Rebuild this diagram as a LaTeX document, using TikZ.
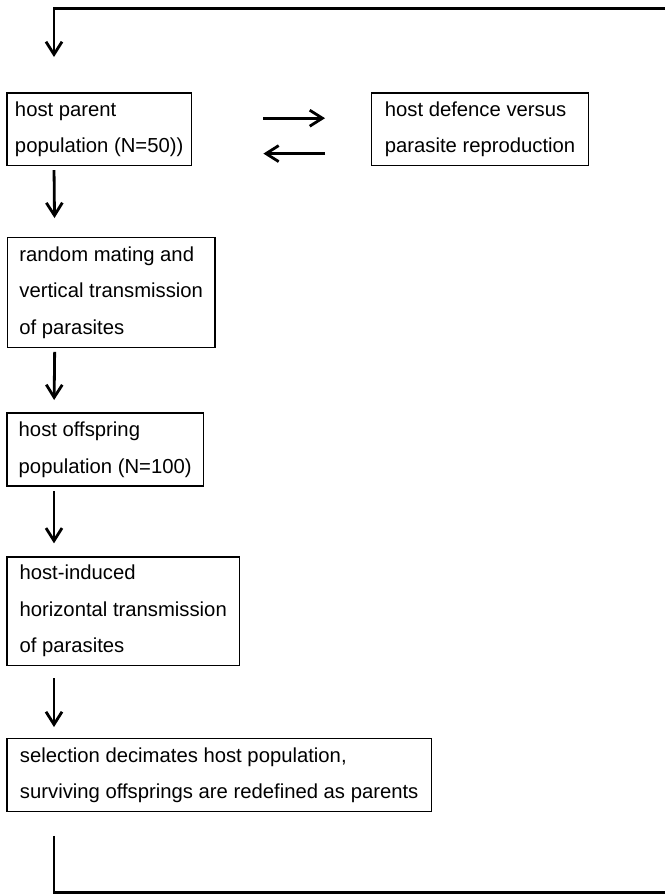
\documentclass[tikz,border=0pt]{standalone}
\usepackage{fontspec}
\setmainfont{Liberation Sans}
\usetikzlibrary{arrows.meta}

\begin{document}
\begin{tikzpicture}[x=0.75pt,y=-0.75pt]
\tikzstyle{stage}=[draw,line width=1.3pt,anchor=north west,align=left,inner sep=0pt,font=\fontsize{15.2}{27.4}\selectfont]
\tikzstyle{flow}=[line width=2.1pt,-{Straight Barb[length=9.5pt,width=12pt]}]
\tikzstyle{back}=[line width=2.2pt]
\useasboundingbox (0,0) rectangle (665,894);

% one generation, top to bottom
\node[stage,minimum width=138.5pt,minimum height=54.5pt] (parent) at (6,92) {host parent\\population (N=50))};
\node[stage,minimum width=162.75pt,minimum height=54.5pt] (defence) at (370.7,92) {host defence versus\\parasite reproduction};
\node[stage,minimum width=155.5pt,minimum height=82.5pt] (mating) at (6.7,236.7) {random mating and\\vertical transmission\\of parasites};
\node[stage,minimum width=147.5pt,minimum height=55pt] (offspring) at (6,412) {host offspring\\population (N=100)};
\node[stage,minimum width=174.5pt,minimum height=81.5pt] (horizontal) at (6,556) {host-induced\\horizontal transmission\\of parasites};
\node[stage,minimum width=318.5pt,minimum height=54.75pt] (select) at (6,737.7) {selection decimates host population,\\surviving offsprings are redefined as parents};

\coordinate (topright) at (665,8.5);
\coordinate (botright) at (665,892.5);

% arrows down the column
\draw[flow,shorten >=26.25pt] (topright) -| ([xshift=36pt]parent.north west);
\draw[flow,shorten <=2.8pt,shorten >=14pt] ([xshift=36pt]parent.south west) -- ([xshift=36pt]mating.north west);
\draw[flow,shorten <=2.5pt,shorten >=9pt] ([xshift=36pt]mating.south west) -- ([xshift=36pt]offspring.north west);
\draw[flow,shorten <=3pt,shorten >=9.5pt] ([xshift=36pt]offspring.south west) -- ([xshift=36pt]horizontal.north west);
\draw[flow,shorten <=9pt,shorten >=8pt] ([xshift=36pt]horizontal.south west) -- ([xshift=36pt]select.north west);
\draw[back,shorten <=17.5pt] ([xshift=36pt]select.south west) |- (botright);

% exchange with the side box
\draw[flow,shorten <=53.25pt,shorten >=34.25pt] ([yshift=8.25pt]parent.east) -- ([yshift=8.25pt]defence.west);
\draw[flow,shorten <=34.25pt,shorten >=53.25pt] ([yshift=-18.3pt]defence.west) -- ([yshift=-18.3pt]parent.east);
\end{tikzpicture}
\end{document}
